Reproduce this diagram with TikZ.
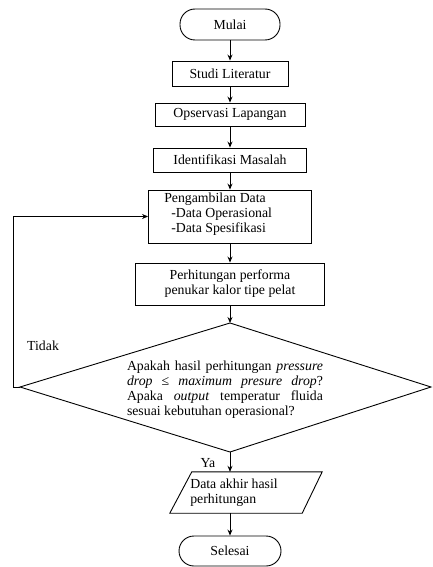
\documentclass[tikz,border=0pt]{standalone}
\usepackage{fontspec}
\setmainfont{Liberation Serif}
\usetikzlibrary{arrows.meta,calc}
\tikzset{
  box/.style={draw, line width=0.9pt, rectangle, inner sep=0pt, align=center},
  term/.style={draw, line width=0.9pt, rectangle, rounded corners=15pt, inner sep=0pt, align=center},
  plain/.style={inner sep=0pt, align=left},
  line/.style={line width=0.9pt},
  arr/.style={line width=0.9pt, -{Stealth[length=6pt,width=5pt]}}
}
\begin{document}
\begin{tikzpicture}[x=1pt,y=-1pt,font=\rmfamily\fontsize{13.8}{15}\selectfont]
\useasboundingbox (0,0) rectangle (432,567);

\node[term, minimum width=100pt, minimum height=31pt] (mulai) at (230,24.5) {Mulai};
\node[box, minimum width=116pt, minimum height=25pt] (studi) at (230,73.5) {Studi Literatur};
\node[box, minimum width=150pt, minimum height=23pt] (ops) at (230,114.5) {Opservasi Lapangan};
\node[box, minimum width=153pt, minimum height=24pt] (ident) at (230,160) {Identifikasi Masalah};
\node[box, minimum width=163pt, minimum height=53pt] (ambil) at (230,216.5) {};
\node[plain, anchor=west] (ambiltxt) at ($(ambil.west)+(16,-2)$) {Pengambilan Data\\\hspace*{7pt}-Data Operasional\\\hspace*{7pt}-Data Spesifikasi};
\node[box, minimum width=189pt, minimum height=42pt] (perh) at (230,284) {Perhitungan performa\\penukar kalor tipe pelat};

% decision diamond
\coordinate (dl) at (20,387);
\coordinate (dt) at (230,323);
\coordinate (dr) at (431,387);
\coordinate (db) at (230,452);
\draw[line] (dl) -- (dt) -- (dr) -- (db) -- cycle;
\node[inner sep=0pt, text width=196pt, align=justify] (dectxt) at (225,389.5)
  {Apakah hasil perhitungan \textit{pressure drop} ≤ \textit{maximum presure drop}? Apaka \textit{output} temperatur fluida sesuai kebutuhan operasional?};

% output parallelogram
\node[inner sep=0pt, minimum width=152pt, minimum height=41pt] (out) at (246,492.5) {};
\draw[line] ($(out.north west)+(22,0)$) -- (out.north east) -- ($(out.south east)+(-20,0)$) -- (out.south west) -- cycle;
\node[plain] (outtxt) at (234,492.5) {Data akhir hasil\\perhitungan};

\node[term, minimum width=102pt, minimum height=30pt] (selesai) at (230,551) {Selesai};

\node[plain, anchor=west] (tidak) at (27,346) {Tidak};
\node[plain] (ya) at (208,463) {Ya};

\draw[arr] (mulai) -- (studi);
\draw[arr] (studi) -- (ops);
\draw[arr] (ops) -- (ident);
\draw[arr] (ident) -- (ambil);
\draw[arr] (ambil) -- (perh);
\draw[arr] (perh.south) -- (dt);
\draw[arr] (db) -- (db |- out.north);
\draw[arr] (db |- out.south) -- (selesai.north);
\coordinate (lp) at (13,387);
\draw[arr] (dl) -- (lp) |- (ambil.west);
\end{tikzpicture}
\end{document}
